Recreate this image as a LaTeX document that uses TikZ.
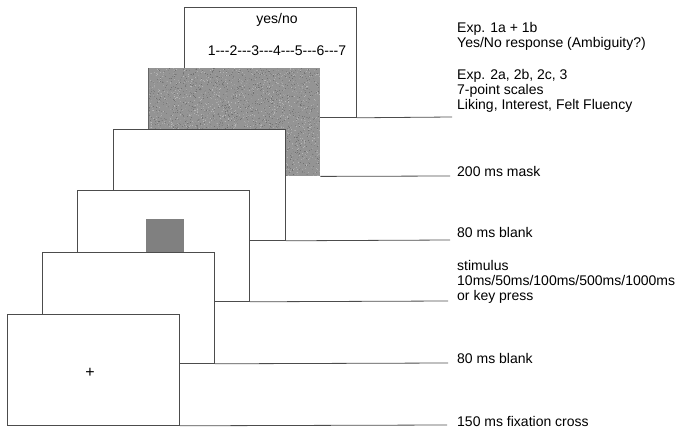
\documentclass[tikz,border=0pt]{standalone}
\usepackage{fontspec}
\setmainfont{Liberation Sans}
\begin{document}
\begin{tikzpicture}[x=1pt,y=-1pt,
  screen/.style={draw=black!70, line width=0.8pt, fill=white, inner sep=0pt,
    minimum width=172pt, minimum height=111pt, anchor=north west},
  maskbox/.style={fill=black!42, inner sep=0pt, minimum width=172pt,
    minimum height=108pt, anchor=north west},
  tail/.style={draw=black!70, line width=0.8pt},
  lbl/.style={anchor=base west, inner sep=0pt, align=left,
    font=\fontsize{14}{15}\selectfont},
  ctext/.style={anchor=base, inner sep=0pt, font=\fontsize{14}{15}\selectfont}]
\useasboundingbox (0,0) rectangle (683,433);
\def\dsh{-{}-{}-}
% response screen (back)
\node[screen, minimum height=110pt] (s6) at (184,7) {};
\coordinate (e6) at (452,117);
\draw[tail] (s6.south east) -- (e6);
\node[ctext] (yn) at (277,24) {yes/no};
\node[ctext] (sc) at (277,56) {1\dsh2\dsh3\dsh4\dsh5\dsh6\dsh7};
% mask
\node[maskbox] (s5) at (148,68) {};
\coordinate (e5) at (450,176);
\draw[tail] (s5.south east) -- (e5);
\pgfmathsetseed{7}
\foreach \i in {1,...,4000}{
  \pgfmathsetmacro\xx{148+rnd*171}
  \pgfmathsetmacro\yy{68+rnd*107}
  \pgfmathtruncatemacro\gg{28+rnd*30}
  \fill[black!\gg] (\xx,\yy) rectangle +(1,1);
}
\draw[black!60, line width=0.8pt] (s5.north west) -- (s5.south west);
% 80 ms blank
\node[screen] (s4) at (113,129) {};
\coordinate (e4) at (450,240);
\draw[tail] (s4.south east) -- (e4);
% stimulus
\node[screen] (s3) at (77,190) {};
\coordinate (e3) at (448,301);
\draw[tail] (s3.south east) -- (e3);
\node[fill=black!50, inner sep=0pt, minimum width=38pt, minimum height=34pt, anchor=north west] (stim) at (146,219) {};
% 80 ms blank
\node[screen] (s2) at (42,252) {};
\coordinate (e2) at (448,363);
\draw[tail] (s2.south east) -- (e2);
% fixation
\node[screen] (s1) at (7,314) {};
\coordinate (e1) at (447,425);
\draw[tail] (s1.south east) -- (e1);
\node[inner sep=0pt, font=\fontsize{16}{16}\selectfont] (fix) at (90,373) {+};
% labels
\node[lbl] (l6) at (457,110) {Exp. 1a + 1b\\Yes/No response (Ambiguity?)\\[17pt]Exp. 2a, 2b, 2c, 3\\7-point scales\\Liking, Interest, Felt Fluency};
\node[lbl] (l5) at (457,176) {200 ms mask};
\node[lbl] (l4) at (457,237) {80 ms blank};
\node[lbl] (l3) at (457,300) {stimulus\\10ms/50ms/100ms/500ms/1000ms\\or key press};
\node[lbl] (l2) at (457,363) {80 ms blank};
\node[lbl] (l1) at (457,426) {150 ms fixation cross};
\end{tikzpicture}
\end{document}
